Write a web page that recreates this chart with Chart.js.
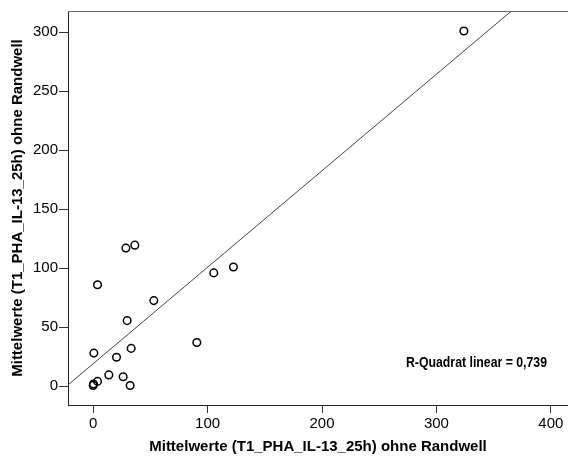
<!DOCTYPE html>
<html lang="de">
<head>
<meta charset="UTF-8">
<title>Streudiagramm Mittelwerte</title>
<script src="https://cdn.jsdelivr.net/npm/chart.js"></script>
<style>
    body { margin: 0; background: #fff; }
    #wrap { width: 568px; height: 459px; }
</style>
</head>
<body>
<div id="wrap"><canvas id="scatter" width="568" height="459"></canvas></div>
<script>
    // Messwerte (x = Mittelwerte T1_PHA_IL-13_25h, y = Mittelwerte ...)
    const xValues = [324, 28.6, 36.4, 3.8, 105.4, 122.6, 53, 29.7, 90.6, 0.6, 33.2, 20.4, 13.7, 26.2, 32.3, 3.8, 0.3, 0];
    const yValues = [301, 117, 119.5, 86, 96, 101, 72.5, 55.5, 37, 28, 32, 24.5, 9.5, 8, 0.5, 4, 1.8, 0.6];
    const xTicks = [0, 100, 200, 300, 400];
    const yTicks = [0, 50, 100, 150, 200, 250, 300];
    const xRange = [-22, 415];
    const yRange = [-16, 318];
    // lineare Anpassung
    const fitIntercept = 19;
    const fitSlope = 0.818;
    const rSquared = '0,739';
    const axisTitle = 'Mittelwerte (T1_PHA_IL-13_25h) ohne Randwell';

    const points = xValues.map((x, i) => ({ x: x, y: yValues[i] }));
    const fitLine = xRange.map(x => ({ x: x, y: fitIntercept + fitSlope * x }));

    // obere Rahmenlinie + R-Quadrat Beschriftung (schmal)
    const extras = {
        id: 'extras',
        afterDraw(chart) {
            const ctx = chart.ctx;
            const a = chart.chartArea;
            ctx.save();
            ctx.strokeStyle = '#666';
            ctx.lineWidth = 1;
            ctx.beginPath();
            ctx.moveTo(a.left, a.top + 0.5);
            ctx.lineTo(a.right, a.top + 0.5);
            ctx.stroke();

            const label = 'R-Quadrat linear = ' + rSquared;
            ctx.fillStyle = '#000';
            ctx.font = 'bold 14px "Liberation Sans", Arial, sans-serif';
            ctx.textAlign = 'left';
            ctx.textBaseline = 'middle';
            const w = ctx.measureText(label).width;
            const target = 141;
            const right = a.right - 21;
            ctx.translate(right - target, 363);
            ctx.scale(target / w, 1);
            ctx.fillText(label, 0, 0);
            ctx.restore();
        }
    };

    const tickFont = { family: '"Liberation Sans", Arial, sans-serif', size: 15 };
    const titleFont = { family: '"Liberation Sans", Arial, sans-serif', size: 15, weight: 'bold' };

    new Chart(document.getElementById('scatter'), {
        type: 'scatter',
        data: {
            datasets: [{
                data: points,
                pointStyle: 'circle',
                pointRadius: 3.8,
                pointBorderWidth: 1.5,
                pointBackgroundColor: 'rgba(255,255,255,0)',
                pointBorderColor: '#000',
                order: 1
            }, {
                type: 'line',
                data: fitLine,
                borderColor: '#444',
                borderWidth: 1,
                pointRadius: 0,
                fill: false,
                order: 2
            }]
        },
        options: {
            responsive: false,
            animation: false,
            layout: { autoPadding: false, padding: { top: 11, right: 0, left: 0, bottom: 0 } },
            plugins: {
                legend: { display: false },
                tooltip: { enabled: false }
            },
            scales: {
                x: {
                    type: 'linear',
                    min: xRange[0],
                    max: xRange[1],
                    afterBuildTicks: s => { s.ticks = xTicks.map(v => ({ value: v })); },
                    afterFit: s => { s.height = 54; s.paddingLeft = 0; s.paddingRight = 0; },
                    grid: { drawOnChartArea: false, drawTicks: true, tickLength: 8, color: '#333' },
                    border: { color: '#222', width: 1 },
                    ticks: { font: tickFont, color: '#000', padding: 2, maxRotation: 0 },
                    title: { display: true, text: axisTitle, font: titleFont, color: '#000', padding: { top: 0, bottom: 3 } }
                },
                y: {
                    type: 'linear',
                    min: yRange[0],
                    max: yRange[1],
                    afterBuildTicks: s => { s.ticks = yTicks.map(v => ({ value: v })); },
                    afterFit: s => { s.width = 68; s.paddingTop = 0; s.paddingBottom = 0; },
                    grid: { drawOnChartArea: false, drawTicks: true, tickLength: 9, color: '#333' },
                    border: { color: '#222', width: 1 },
                    ticks: { font: tickFont, color: '#000', padding: 1 },
                    title: { display: true, text: axisTitle, font: titleFont, color: '#000', padding: { top: 9, bottom: 0 } }
                }
            }
        },
        plugins: [extras]
    });
</script>
</body>
</html>
